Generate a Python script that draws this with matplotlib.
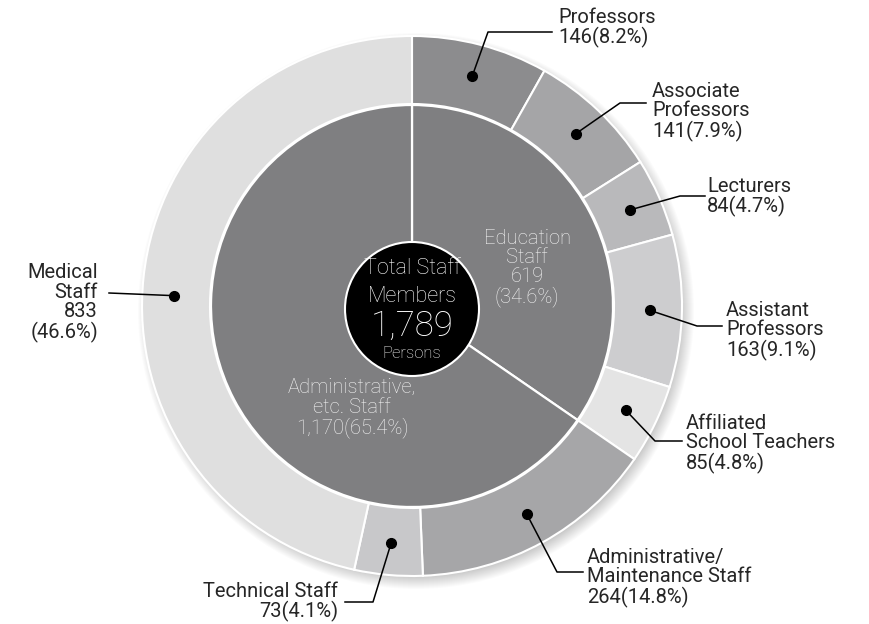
import matplotlib.pyplot as plt
from matplotlib.patches import Circle
import numpy as np

W, H = 869, 624

inner_labels = ['Education\nStaff', 'Administrative,\netc. Staff']
inner_values = [619, 1170]
inner_pcts = [34.6, 65.4]
inner_seps = ['\n', '']

outer_labels = ['Professors', 'Associate\nProfessors', 'Lecturers', 'Assistant\nProfessors',
                'Affiliated\nSchool Teachers', 'Administrative/\nMaintenance Staff',
                'Technical Staff', 'Medical\nStaff']
outer_values = [146, 141, 84, 163, 85, 264, 73, 833]
outer_pcts = [8.2, 7.9, 4.7, 9.1, 4.8, 14.8, 4.1, 46.6]
outer_seps = ['', '', '', '', '', '', '', '\n']
outer_colors = ['#8c8c8e', '#a5a5a7', '#b9b9bb', '#cdcdcf', '#e4e4e4',
                '#a6a6a8', '#c8c8ca', '#dfdfdf']
inner_color = '#7f7f81'
total = 1789

# layout (pixel coords, y measured from top)
cx, cy = 412, 306
r_out, ring_w, r_in = 270, 68, 201
dot_r = 238
dot_shift = [0, 0, 0, 0, 0, 0, 0, 3.7]          # degrees
elbows = [(488, 32), (620, 103), (680, 196), (697, 326), (655, 441), (557, 572), (373, 602), (109, 293)]
ends = [(552, 32), (646, 103), (705, 196), (722, 326), (682, 441), (583, 572), (345, 602), (109, 293)]
text_pos = [(558, 28, 'left'), (652, 112, 'left'), (707, 197, 'left'), (726, 331, 'left'),
            (686, 444, 'left'), (587, 578, 'left'), (338, 602, 'right'), (98, 303, 'right')]
inner_text_pos = [(527, 268), (352, 408)]

FONT = ['Roboto', 'DejaVu Sans']

fig = plt.figure(figsize=(W / 100, H / 100), dpi=100)
ax = fig.add_axes([0, 0, 1, 1])


def Y(y):
    return H - y


# soft drop shadow of the ring
for i in range(14):
    ax.add_patch(Circle((cx + 4, Y(cy) - 5), r_out + 8 - i, color='black', alpha=0.016, lw=0, zorder=0))
ax.add_patch(Circle((cx, Y(cy)), r_out, color='white', lw=0, zorder=0.5))

ax.pie(outer_values, colors=outer_colors, startangle=90, counterclock=False,
       center=(cx, Y(cy)), radius=r_out, frame=True,
       wedgeprops=dict(width=ring_w, edgecolor='white', linewidth=1.5))
ax.pie(inner_values, colors=[inner_color] * 2, startangle=90, counterclock=False,
       center=(cx, Y(cy)), radius=r_in, frame=True,
       wedgeprops=dict(edgecolor='white', linewidth=1.6))

# leader lines and labels
fracs = np.array(outer_values) / total
starts = 90 - 360 * np.concatenate([[0], np.cumsum(fracs)[:-1]])
mids = starts - 180 * fracs + np.array(dot_shift)
for i, lab in enumerate(outer_labels):
    a = np.radians(mids[i])
    dx, dy = cx + dot_r * np.cos(a), Y(cy) + dot_r * np.sin(a)
    ex, ey = elbows[i]
    fx, fy = ends[i]
    ax.plot([dx, ex, fx], [dy, Y(ey), Y(fy)], color='black', lw=1.1, zorder=5)
    ax.plot(dx, dy, 'o', color='black', ms=7, zorder=6)
    tx, ty, ha = text_pos[i]
    txt = f'{lab}\n{outer_values[i]:,}{outer_seps[i]}({outer_pcts[i]}%)'
    ax.text(tx, Y(ty), txt, ha=ha, va='center', fontsize=14.5, family=FONT,
            linespacing=1.04, color='#262626', zorder=7)

for i, lab in enumerate(inner_labels):
    tx, ty = inner_text_pos[i]
    txt = f'{lab}\n{inner_values[i]:,}{inner_seps[i]}({inner_pcts[i]}%)'
    ax.text(tx, Y(ty), txt, ha='center', va='center', fontsize=14.5, family=FONT, fontweight='light',
            linespacing=1.02, color='#f4f4f4', zorder=7)

# center badge
ax.add_patch(Circle((cx, Y(309)), 67, facecolor='black', edgecolor='white', lw=1.5, zorder=8))
ax.text(cx, Y(268), 'Total Staff', ha='center', va='center', fontsize=15.5, family=FONT,
        fontweight='light', color='white', zorder=9)
ax.text(cx, Y(297), 'Members', ha='center', va='center', fontsize=15.5, family=FONT,
        fontweight='light', color='white', zorder=9)
ax.text(cx, Y(326), f'{total:,}', ha='center', va='center', fontsize=25, family=FONT,
        fontweight='light', color='white', zorder=9)
ax.text(cx, Y(354), 'Persons', ha='center', va='center', fontsize=12, family=FONT,
        fontweight='light', color='white', zorder=9)

ax.set_xlim(0, W)
ax.set_ylim(0, H)
ax.set_aspect('equal')
ax.axis('off')

fig.savefig('out.png', dpi=100)
